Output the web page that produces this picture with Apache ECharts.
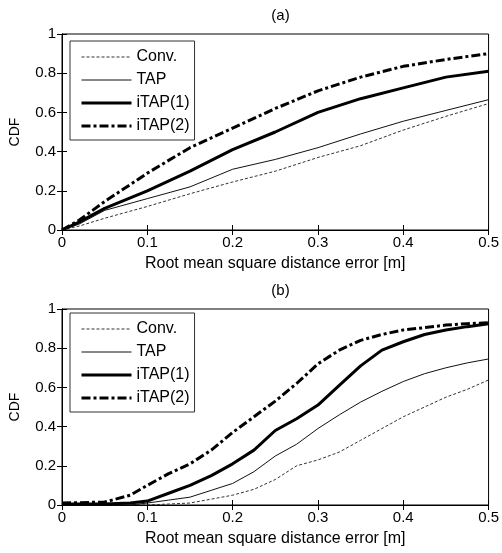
<!DOCTYPE html>
<html><head><meta charset="utf-8">
<script src="https://cdn.jsdelivr.net/npm/echarts@6/dist/echarts.min.js"></script>
<style>html,body{margin:0;padding:0;background:#fff}#c{width:502px;height:553px}</style>
</head><body><div id="c"></div>
<script>
var seriesNames = ['Conv.', 'TAP', 'iTAP(1)', 'iTAP(2)'];
var xTop = [0, 0.02, 0.05, 0.1, 0.15, 0.2, 0.25, 0.3, 0.35, 0.4, 0.45, 0.5];
var convTop  = [0, 0.02, 0.06, 0.12, 0.185, 0.245, 0.30, 0.37, 0.43, 0.51, 0.58, 0.645];
var tapTop   = [0, 0.03, 0.10, 0.16, 0.22, 0.31, 0.36, 0.42, 0.49, 0.555, 0.61, 0.665];
var itap1Top = [0, 0.04, 0.11, 0.20, 0.30, 0.41, 0.50, 0.60, 0.67, 0.725, 0.78, 0.81];
var itap2Top = [0, 0.05, 0.145, 0.29, 0.42, 0.52, 0.62, 0.71, 0.78, 0.835, 0.87, 0.90];

var xBot = [0, 0.05, 0.08, 0.1, 0.125, 0.15, 0.175, 0.2, 0.225, 0.25, 0.275, 0.3, 0.325, 0.35, 0.375, 0.4, 0.425, 0.45, 0.475, 0.5];
var convBot  = [0, 0, 0, 0, 0.005, 0.01, 0.03, 0.05, 0.08, 0.13, 0.20, 0.23, 0.27, 0.33, 0.39, 0.45, 0.50, 0.55, 0.59, 0.638];
var tapBot   = [0, 0, 0, 0.01, 0.025, 0.04, 0.075, 0.11, 0.17, 0.25, 0.31, 0.39, 0.46, 0.525, 0.58, 0.63, 0.67, 0.70, 0.725, 0.745];
var itap1Bot = [0.005, 0.005, 0.01, 0.02, 0.06, 0.10, 0.15, 0.21, 0.28, 0.38, 0.44, 0.51, 0.61, 0.71, 0.79, 0.833, 0.87, 0.893, 0.91, 0.925];
var itap2Bot = [0.01, 0.015, 0.05, 0.10, 0.16, 0.21, 0.28, 0.37, 0.45, 0.53, 0.62, 0.72, 0.79, 0.84, 0.87, 0.893, 0.905, 0.918, 0.925, 0.93];

var titles = ['(a)', '(b)'];
var xTicks = [0, 0.1, 0.2, 0.3, 0.4, 0.5];
var yTicks = [0, 0.2, 0.4, 0.6, 0.8, 1];

var FONT = 'Liberation Sans';
var styles = [
  {color: '#333', width: 1, type: [3, 2]},
  {color: '#111', width: 1, type: 'solid'},
  {color: '#000', width: 3, type: 'solid'},
  {color: '#000', width: 3, type: [9, 3, 3, 3]}
];
function pair(xs, ys) { return xs.map(function (x, i) { return [x, ys[i]]; }); }

var gridTops = [34, 309];
var grids = [], xAxes = [], yAxes = [], series = [], tt = [];
var sets = [[convTop, tapTop, itap1Top, itap2Top], [convBot, tapBot, itap1Bot, itap2Bot]];
var xsets = [xTop, xBot];
for (var g = 0; g < 2; g++) {
  grids.push({left: 61, right: 12, top: gridTops[g], height: 196, show: true, borderColor: '#000', borderWidth: 1, backgroundColor: '#fff'});
  var base = {type: 'value', min: 0, max: 0.5, interval: 0.1, gridIndex: g,
    axisLine: {show: true, lineStyle: {color: '#000', width: 1}},
    axisTick: {show: true, inside: true, length: 5, lineStyle: {color: '#000'}},
    splitLine: {show: false}};
  xAxes.push(Object.assign({}, base, {position: 'bottom',
    name: 'Root mean square distance error [m]', nameLocation: 'middle', nameGap: 26,
    nameTextStyle: {fontFamily: FONT, fontSize: 16, color: '#000'},
    axisLabel: {fontFamily: FONT, fontSize: 15, color: '#000', margin: 5,
      formatter: function (v) { return String(Math.round(v * 10) / 10); }}}));
  xAxes.push(Object.assign({}, base, {position: 'top', axisLabel: {show: false}}));
  var ybase = {type: 'value', min: 0, max: 1, interval: 0.2, gridIndex: g,
    axisLine: {show: true, lineStyle: {color: '#000', width: 1}},
    axisTick: {show: true, inside: true, length: 5, lineStyle: {color: '#000'}},
    splitLine: {show: false}};
  yAxes.push(Object.assign({}, ybase, {position: 'left', name: 'CDF', nameLocation: 'middle', nameGap: 40,
    nameTextStyle: {fontFamily: FONT, fontSize: 14, color: '#000'},
    axisLabel: {fontFamily: FONT, fontSize: 15, color: '#000', margin: 6,
      formatter: function (v) { return String(Math.round(v * 10) / 10); }}}));
  yAxes.push(Object.assign({}, ybase, {position: 'right', axisLabel: {show: false}}));
  for (var s = 0; s < 4; s++) {
    series.push({type: 'line', name: seriesNames[s], xAxisIndex: g * 2, yAxisIndex: g * 2,
      data: pair(xsets[g], sets[g][s]), showSymbol: false, symbol: 'none', smooth: false,
      lineStyle: styles[s], itemStyle: {color: styles[s].color}, z: 2 + s, silent: true, animation: false});
  }
  tt.push({text: titles[g], left: 275.5, textAlign: 'center', top: gridTops[g] - 31,
    textStyle: {fontFamily: FONT, fontSize: 15, fontWeight: 'normal', color: '#000'}});
}
var chart = echarts.init(document.getElementById('c'), null, {renderer: 'canvas'});
function mkLegend(top) {
  return {orient: 'vertical', left: 70, top: top, itemWidth: 50, itemHeight: 12, itemGap: 7,
    borderColor: '#333', borderWidth: 1, padding: [8, 5, 6, 10], backgroundColor: '#fff',
    textStyle: {fontFamily: FONT, fontSize: 16, color: '#000'},
    itemStyle: {opacity: 0},
    lineStyle: {width: 'inherit', type: 'inherit', color: 'inherit'},
    data: seriesNames.slice(), selectedMode: false};
}
chart.setOption({
  animation: false,
  backgroundColor: '#fff',
  title: tt,
  grid: grids,
  xAxis: xAxes,
  yAxis: yAxes,
  legend: [mkLegend(41), mkLegend(313)],
  series: series
});
</script></body></html>
